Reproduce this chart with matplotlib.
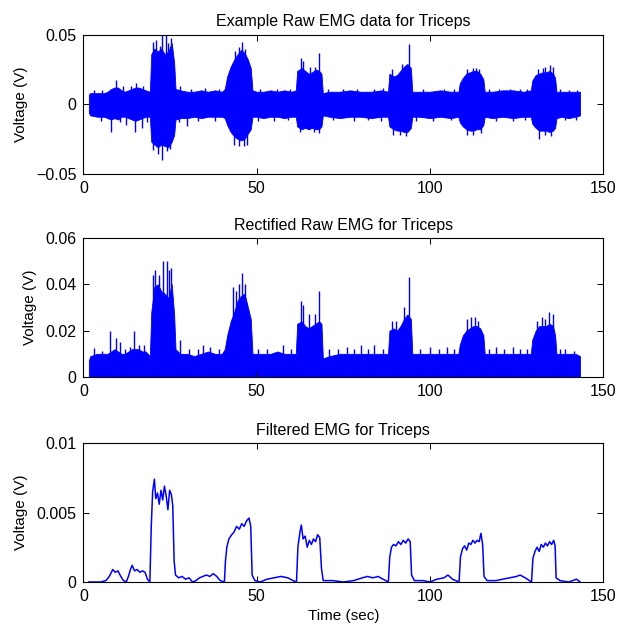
import matplotlib
matplotlib.use('Agg')
import matplotlib.pyplot as plt
from matplotlib.ticker import FuncFormatter

plt.rcParams['font.family'] = ['Liberation Sans', 'DejaVu Sans']
plt.rcParams['font.size'] = 11

# envelope sample times (sec), shared by the raw and rectified panels
env_t = [1.6, 2, 4, 6, 7, 8, 9, 10, 11, 12, 13, 14, 15, 16, 17, 18, 19.2,
         19.6, 20.5, 21.5, 22.5, 23.5, 24.5, 25.5, 26.2, 26.6,
         28, 30, 32, 34, 36, 38, 40,
         40.8, 41.5, 42.5, 43.5, 44.5, 45.5, 46.5, 47.5, 48.3, 48.8,
         50, 52, 54, 56, 58, 60,
         61.3, 61.7, 63, 64, 65, 66, 67, 68, 68.7, 69.1,
         71, 74, 77, 80, 83, 86,
         87.9, 88.3, 89.5, 90.5, 91.5, 92.5, 93.5, 94.5, 94.9,
         97, 100, 103, 106,
         108.2, 108.6, 109.5, 110.5, 111.5, 112.5, 113.5, 114.5, 115.4, 115.8,
         118, 121, 124, 127,
         129.1, 129.5, 130.5, 131.5, 132.5, 133.5, 134.5, 135.5, 136.1, 136.5,
         138, 140, 142, 143.3]

raw_upper = [0.007, 0.008, 0.008, 0.008, 0.009, 0.011, 0.012, 0.012, 0.010, 0.009, 0.010, 0.011, 0.012, 0.012, 0.011, 0.010, 0.009,
             0.036, 0.040, 0.038, 0.040, 0.036, 0.038, 0.044, 0.030, 0.011,
             0.010, 0.009, 0.009, 0.010, 0.009, 0.010, 0.009,
             0.011, 0.020, 0.027, 0.032, 0.036, 0.039, 0.037, 0.032, 0.026, 0.010,
             0.009, 0.009, 0.010, 0.009, 0.010, 0.009,
             0.010, 0.024, 0.026, 0.024, 0.022, 0.023, 0.025, 0.024, 0.022, 0.008,
             0.009, 0.009, 0.010, 0.009, 0.009, 0.010,
             0.009, 0.022, 0.020, 0.021, 0.024, 0.027, 0.029, 0.026, 0.009,
             0.009, 0.009, 0.010, 0.009,
             0.009, 0.015, 0.019, 0.022, 0.023, 0.024, 0.024, 0.022, 0.018, 0.009,
             0.009, 0.010, 0.010, 0.009,
             0.010, 0.017, 0.021, 0.022, 0.023, 0.023, 0.024, 0.022, 0.019, 0.009,
             0.009, 0.009, 0.009, 0.009]

raw_lower = [-0.006, -0.008, -0.009, -0.009, -0.010, -0.011, -0.010, -0.011, -0.009, -0.009, -0.010, -0.011, -0.012, -0.011, -0.010, -0.009, -0.009,
             -0.027, -0.029, -0.031, -0.029, -0.030, -0.031, -0.027, -0.022, -0.011,
             -0.010, -0.010, -0.009, -0.010, -0.009, -0.009, -0.009,
             -0.010, -0.015, -0.020, -0.023, -0.025, -0.026, -0.025, -0.021, -0.018, -0.009,
             -0.009, -0.010, -0.009, -0.009, -0.010, -0.009,
             -0.009, -0.016, -0.018, -0.017, -0.018, -0.017, -0.018, -0.018, -0.016, -0.008,
             -0.009, -0.010, -0.009, -0.009, -0.010, -0.009,
             -0.009, -0.016, -0.018, -0.019, -0.019, -0.020, -0.020, -0.017, -0.009,
             -0.009, -0.010, -0.009, -0.010,
             -0.009, -0.013, -0.016, -0.018, -0.019, -0.019, -0.018, -0.018, -0.015, -0.009,
             -0.010, -0.009, -0.010, -0.009,
             -0.009, -0.014, -0.017, -0.019, -0.019, -0.019, -0.020, -0.019, -0.017, -0.010,
             -0.009, -0.010, -0.009, -0.008]

rect_top = [0.007, 0.009, 0.010, 0.010, 0.010, 0.011, 0.012, 0.011, 0.010, 0.010, 0.011, 0.012, 0.012, 0.012, 0.011, 0.011, 0.009,
            0.028, 0.039, 0.040, 0.037, 0.036, 0.034, 0.040, 0.027, 0.012,
            0.010, 0.010, 0.009, 0.010, 0.011, 0.010, 0.010,
            0.012, 0.018, 0.024, 0.028, 0.033, 0.035, 0.036, 0.030, 0.025, 0.010,
            0.010, 0.010, 0.010, 0.011, 0.010, 0.010,
            0.010, 0.023, 0.024, 0.022, 0.021, 0.022, 0.023, 0.024, 0.023, 0.008,
            0.009, 0.010, 0.010, 0.010, 0.010, 0.010,
            0.010, 0.020, 0.021, 0.020, 0.022, 0.025, 0.027, 0.025, 0.010,
            0.010, 0.010, 0.010, 0.010,
            0.010, 0.014, 0.018, 0.020, 0.021, 0.022, 0.022, 0.021, 0.018, 0.010,
            0.010, 0.010, 0.010, 0.010,
            0.010, 0.016, 0.020, 0.022, 0.022, 0.022, 0.023, 0.022, 0.018, 0.010,
            0.010, 0.010, 0.010, 0.009]

# single tall excursions above / below the envelope
up_spike_t = [3, 5.5, 9.3, 11.5, 13.8, 15.1, 17.2, 20.1, 21.0, 22.0, 22.8, 23.8, 24.4, 25.2, 27.8, 31, 35, 39,
              43.8, 45.0, 45.7, 46.6, 51, 56, 59.5, 62.7, 63.5, 65.5, 66.8, 68.1, 70.5, 75, 79, 84, 86.5,
              89.0, 92.0, 94.0, 98, 104, 107, 110.8, 112.3, 113.2, 114.2, 117, 120, 123, 126, 128,
              131.2, 132.5, 133.3, 134.6, 135.6, 137.5, 140, 142.5]
up_spike_v = [0.010, 0.010, 0.0174, 0.013, 0.013, 0.015, 0.013, 0.045, 0.046, 0.042, 0.050, 0.050, 0.044, 0.048, 0.013, 0.011, 0.012, 0.011,
              0.038, 0.041, 0.045, 0.040, 0.011, 0.011, 0.011, 0.033, 0.031, 0.027, 0.027, 0.037, 0.011, 0.011, 0.011, 0.011, 0.012,
              0.025, 0.029, 0.043, 0.011, 0.011, 0.011, 0.025, 0.026, 0.026, 0.025, 0.011, 0.011, 0.011, 0.011, 0.011,
              0.025, 0.026, 0.027, 0.028, 0.027, 0.011, 0.010, 0.010]
lo_spike_t = [5, 7.9, 10.5, 12.2, 14.9, 16.8, 18.5, 20.2, 21.6, 22.7, 24.0, 25.0, 27.5, 29.8, 33, 38,
              43.6, 44.8, 46.3, 47.2, 50.5, 55, 59, 62.5, 66.5, 68.0, 72, 78, 82, 86,
              89.3, 91.5, 93.0, 96, 101, 106, 110.6, 112.5, 114.8, 119, 124, 127.5,
              131.4, 133.2, 135.0, 139, 142]
lo_spike_v = [-0.012, -0.020, -0.013, -0.015, -0.020, -0.017, -0.013, -0.033, -0.036, -0.040, -0.034, -0.032, -0.013, -0.016, -0.012, -0.012,
              -0.029, -0.030, -0.030, -0.029, -0.012, -0.012, -0.011, -0.020, -0.020, -0.021, -0.011, -0.012, -0.011, -0.012,
              -0.022, -0.022, -0.023, -0.012, -0.012, -0.011, -0.022, -0.022, -0.021, -0.012, -0.012, -0.011,
              -0.025, -0.022, -0.023, -0.011, -0.011]

rect_spike_t = [3.0, 5.5, 7.7, 9.3, 10.5, 12.0, 13.5, 14.7, 16.0, 17.5, 20.0, 20.8, 21.8, 22.9, 24.0, 24.7, 25.3,
                27.8, 30.5, 33, 34.5, 36.5, 39, 43.2, 44.0, 45.0, 45.8, 46.6, 50.5, 53, 57.5, 60,
                62.7, 63.5, 65.0, 66.7, 68.1, 71, 73.5, 76, 78, 80, 82, 84, 86.5,
                89.0, 90.3, 92.5, 94.0, 97, 100, 102.5, 105, 107, 110.8, 111.8, 113.0, 114.0,
                117, 119, 121.5, 124, 126, 128, 131.0, 132.3, 133.2, 134.4, 135.6, 137.5, 139, 141.5]
rect_spike_v = [0.0125, 0.011, 0.020, 0.017, 0.015, 0.012, 0.013, 0.020, 0.014, 0.014, 0.044, 0.046, 0.044, 0.050, 0.050, 0.046, 0.047,
                0.016, 0.012, 0.012, 0.014, 0.013, 0.012, 0.039, 0.037, 0.040, 0.045, 0.040, 0.012, 0.012, 0.014, 0.012,
                0.033, 0.031, 0.027, 0.027, 0.037, 0.012, 0.012, 0.013, 0.012, 0.014, 0.012, 0.014, 0.012,
                0.024, 0.024, 0.030, 0.043, 0.012, 0.013, 0.012, 0.013, 0.012, 0.025, 0.026, 0.026, 0.024,
                0.012, 0.013, 0.012, 0.013, 0.012, 0.012, 0.024, 0.026, 0.025, 0.028, 0.027, 0.012, 0.012, 0.011]

filt_t = [1.6, 5, 6.5, 7.5, 8.5, 9.2, 10, 10.8, 11.6, 12.4, 13.0, 13.6, 14.1, 14.8, 15.5, 16.3, 17.1, 17.8, 18.5, 19.2,
          19.6, 20.0, 20.5, 20.9, 21.4, 21.9, 22.4, 22.9, 23.4, 23.9, 24.4, 24.9, 25.4, 25.8, 26.2, 26.6,
          27.5, 28.5, 29.5, 30.5, 31.5, 32.5, 33.5, 34.5, 35.5, 36.5, 37.5, 38.5, 39.5, 40.7,
          41.0, 41.4, 42.0, 42.8, 43.5, 44.2, 45.0, 45.7, 46.4, 47.1, 47.8, 48.3, 48.7,
          49.5, 51, 53, 55, 57, 59, 60.5, 61.5,
          61.9, 62.5, 62.9, 63.4, 64.0, 64.6, 65.2, 65.8, 66.4, 67.0, 67.6, 68.2, 68.7, 69.2,
          72, 75, 78, 80.5, 82, 83.5, 85, 86.5, 88.0,
          88.4, 88.9, 89.5, 90.2, 90.9, 91.6, 92.3, 93.0, 93.7, 94.3, 94.7,
          95.5, 98, 100, 102, 104, 105.2, 106.5, 108.4,
          108.8, 109.4, 110.0, 110.6, 111.2, 111.8, 112.4, 113.0, 113.6, 114.2, 114.7, 115.2, 115.6,
          116.5, 119, 121, 123, 125, 126, 127.5, 129.3,
          129.7, 130.3, 130.9, 131.5, 132.1, 132.7, 133.3, 133.9, 134.5, 135.1, 135.7, 136.1, 136.4,
          137.5, 140, 142.3, 143.3]
filt_v = [0.0, 0.0, 0.0001, 0.0004, 0.0009, 0.0007, 0.0008, 0.0004, 0.0001, 0.0, 0.0004, 0.0009, 0.0012, 0.0008, 0.0009, 0.0007, 0.0008, 0.0007, 0.0002, 0.0,
          0.0040, 0.0065, 0.0074, 0.0060, 0.0064, 0.0056, 0.0066, 0.0059, 0.0069, 0.0062, 0.0052, 0.0066, 0.0063, 0.0055, 0.0015, 0.0005,
          0.0003, 0.0004, 0.0002, 0.0003, 0.0, 0.0001, 0.0003, 0.0004, 0.0005, 0.0004, 0.0006, 0.0004, 0.0001, 0.0,
          0.0015, 0.0025, 0.0031, 0.0034, 0.0036, 0.0040, 0.0038, 0.0042, 0.0040, 0.0044, 0.0046, 0.0040, 0.0005,
          0.0001, 0.0, 0.0002, 0.0003, 0.0004, 0.0003, 0.0001, 0.0,
          0.0025, 0.0036, 0.0041, 0.0031, 0.0033, 0.0025, 0.0030, 0.0027, 0.0031, 0.0029, 0.0034, 0.0032, 0.0010, 0.0001,
          0.0001, 0.0, 0.0001, 0.0003, 0.0004, 0.0003, 0.0004, 0.0002, 0.0,
          0.0018, 0.0025, 0.0027, 0.0026, 0.0029, 0.0027, 0.0030, 0.0028, 0.0031, 0.0029, 0.0005,
          0.0001, 0.0001, 0.0, 0.0002, 0.0003, 0.0005, 0.0002, 0.0,
          0.0018, 0.0024, 0.0026, 0.0023, 0.0028, 0.0027, 0.0030, 0.0028, 0.0030, 0.0029, 0.0035, 0.0027, 0.0004,
          0.0001, 0.0001, 0.0002, 0.0003, 0.0004, 0.0005, 0.0003, 0.0,
          0.0017, 0.0022, 0.0025, 0.0022, 0.0027, 0.0025, 0.0028, 0.0026, 0.0029, 0.0027, 0.0030, 0.0026, 0.0003,
          0.0001, 0.0, 0.0002, 0.0]

blue = (0, 0, 1)
fmt = FuncFormatter(lambda v, p: ('%g' % v).replace('-', '\u2212'))

fig = plt.figure(figsize=(6.19, 6.26), dpi=100)
left, width, height = 0.1346, 0.840, 0.222
ax1 = fig.add_axes([left, 0.7225, width, height])
ax2 = fig.add_axes([left, 0.3978, width, height])
ax3 = fig.add_axes([left, 0.0703, width, height])

ax1.fill_between(env_t, raw_lower, raw_upper, color=blue, lw=0.6)
ax1.vlines(up_spike_t, 0, up_spike_v, color=blue, lw=1.0)
ax1.vlines(lo_spike_t, lo_spike_v, 0, color=blue, lw=1.0)
ax1.set_ylim(-0.05, 0.05)
ax1.set_yticks([-0.05, 0, 0.05])
ax1.set_title('Example Raw EMG data for Triceps', fontsize=11.5)

ax2.fill_between(env_t, 0, rect_top, color=blue, lw=0.6)
ax2.vlines(rect_spike_t, 0, rect_spike_v, color=blue, lw=1.0)
ax2.set_ylim(0, 0.06)
ax2.set_yticks([0, 0.02, 0.04, 0.06])
ax2.set_title('Rectified Raw EMG for Triceps', fontsize=11.5)

ax3.plot(filt_t, filt_v, color=blue, lw=1.1)
ax3.set_ylim(0, 0.01)
ax3.set_yticks([0, 0.005, 0.01])
ax3.set_title('Filtered EMG for Triceps', fontsize=11.5)
ax3.set_xlabel('Time (sec)', fontsize=11)

for ax in (ax1, ax2, ax3):
    ax.set_xlim(0, 150)
    ax.set_xticks([0, 50, 100, 150])
    ax.yaxis.set_major_formatter(fmt)
    ax.tick_params(direction='in', top=True, right=True, length=4, labelsize=11.5, width=0.7, pad=5)
    ax.set_ylabel('Voltage (V)', fontsize=11, labelpad=6)
    for s in ax.spines.values():
        s.set_linewidth(0.8)

fig.savefig('out.png', dpi=100)
